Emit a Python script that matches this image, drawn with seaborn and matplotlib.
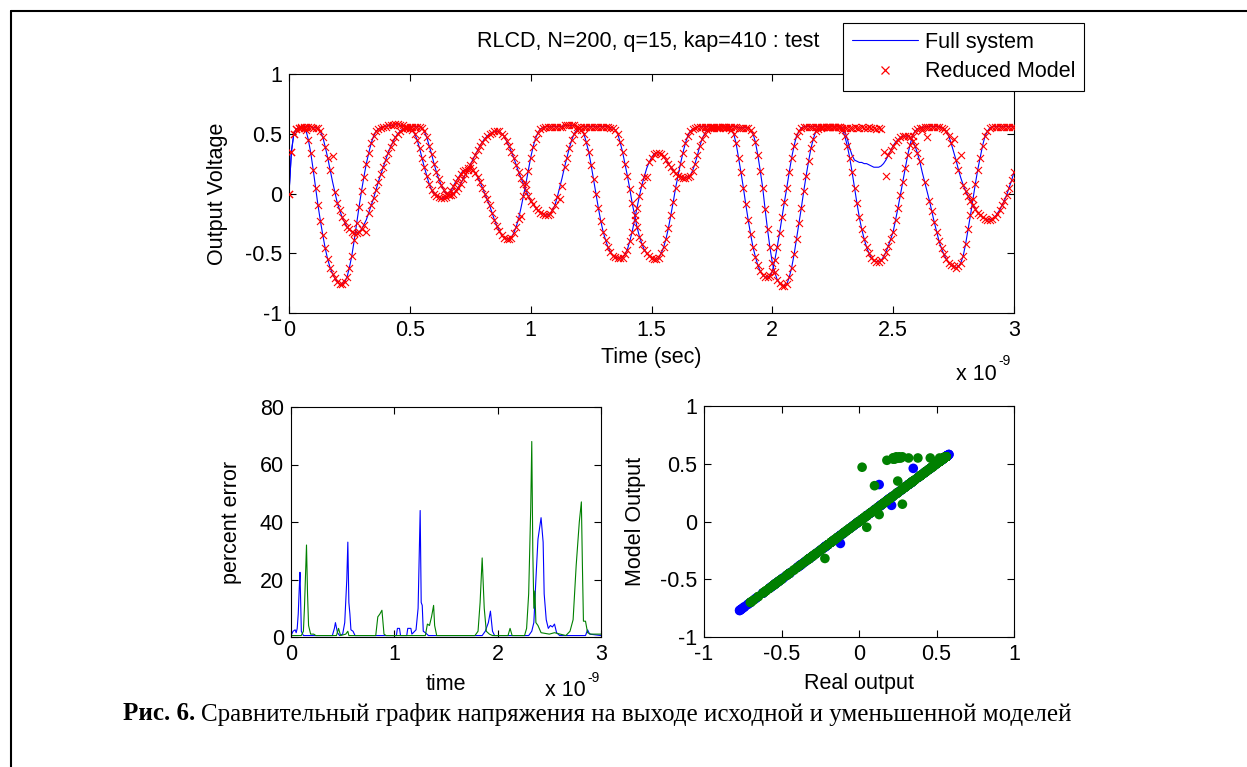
import numpy as np
import pandas as pd
import matplotlib
matplotlib.use('Agg')
import matplotlib.pyplot as plt
import seaborn as sns
from matplotlib.lines import Line2D
from matplotlib.ticker import MultipleLocator, FuncFormatter

# ---- data (time in units of 1e-9 s, sampled every 0.01) ----
t_ns = np.round(np.arange(301) * 0.01, 2)

# full system, output 1 (one row = 0.1 ns)
full_out1 = [
    0.00, 0.35, 0.50, 0.54, 0.55, 0.55, 0.55, 0.53, 0.45, 0.34,
    0.20, 0.05, -0.10, -0.23, -0.35, -0.46, -0.55, -0.62, -0.67, -0.71,
    -0.74, -0.76, -0.76, -0.74, -0.70, -0.62, -0.52, -0.39, -0.25, -0.11,
    0.02, 0.14, 0.25, 0.34, 0.42, 0.48, 0.52, 0.54, 0.55, 0.56,
    0.56, 0.57, 0.57, 0.57, 0.58, 0.58, 0.57, 0.57, 0.56, 0.56,
    0.55, 0.53, 0.50, 0.45, 0.38, 0.30, 0.22, 0.15, 0.08, 0.03,
    0.00, -0.02, -0.03, -0.04, -0.04, -0.03, -0.01, 0.02, 0.06, 0.10,
    0.13, 0.16, 0.19, 0.20, 0.21, 0.21, 0.20, 0.17, 0.14, 0.10,
    0.05, 0.00, -0.05, -0.10, -0.16, -0.22, -0.27, -0.31, -0.35, -0.37,
    -0.38, -0.38, -0.37, -0.33, -0.28, -0.21, -0.12, -0.02, 0.08, 0.19,
    0.30, 0.39, 0.46, 0.51, 0.54, 0.55, 0.56, 0.56, 0.56, 0.56,
    0.56, 0.56, 0.56, 0.56, 0.57, 0.57, 0.57, 0.57, 0.57, 0.56,
    0.55, 0.53, 0.50, 0.43, 0.35, 0.24, 0.12, 0.00, -0.12, -0.23,
    -0.32, -0.39, -0.45, -0.49, -0.52, -0.53, -0.54, -0.54, -0.54, -0.51,
    -0.47, -0.40, -0.32, -0.22, -0.12, -0.02, 0.07, 0.14, 0.21, 0.26,
    0.30, 0.33, 0.34, 0.34, 0.33, 0.31, 0.28, 0.25, 0.22, 0.19,
    0.17, 0.15, 0.14, 0.13, 0.13, 0.14, 0.15, 0.19, 0.25, 0.32,
    0.40, 0.46, 0.50, 0.53, 0.55, 0.55, 0.55, 0.55, 0.55, 0.56,
    0.56, 0.56, 0.56, 0.56, 0.56, 0.56, 0.55, 0.55, 0.55, 0.55,
    0.55, 0.53, 0.50, 0.43, 0.32, 0.19, 0.05, -0.13, -0.30, -0.45,
    -0.58, -0.66, -0.72, -0.75, -0.77, -0.77, -0.76, -0.70, -0.62, -0.51,
    -0.38, -0.25, -0.12, 0.02, 0.15, 0.27, 0.38, 0.46, 0.52, 0.54,
    0.55, 0.56, 0.56, 0.56, 0.56, 0.56, 0.56, 0.56, 0.56, 0.53,
    0.48, 0.40, 0.30, 0.18, 0.05, -0.08, -0.20, -0.30, -0.38, -0.45,
    -0.50, -0.54, -0.56, -0.57, -0.57, -0.56, -0.53, -0.49, -0.44, -0.38,
    -0.32, -0.22, -0.12, -0.01, 0.10, 0.21, 0.32, 0.41, 0.48, 0.52,
    0.54, 0.55, 0.55, 0.56, 0.56, 0.56, 0.56, 0.56, 0.56, 0.56,
    0.55, 0.54, 0.52, 0.48, 0.42, 0.35, 0.28, 0.20, 0.13, 0.07,
    0.02, -0.02, -0.06, -0.10, -0.13, -0.16, -0.18, -0.20, -0.21, -0.22,
    -0.22, -0.21, -0.20, -0.17, -0.14, -0.10, -0.06, -0.01, 0.05, 0.11,
    0.18,
]

# full system, output 2
full_out2 = [
    0.00, 0.35, 0.50, 0.54, 0.55, 0.56, 0.56, 0.56, 0.56, 0.56,
    0.55, 0.55, 0.55, 0.52, 0.47, 0.39, 0.30, 0.20, 0.10, 0.01,
    -0.08, -0.14, -0.20, -0.24, -0.28, -0.30, -0.32, -0.33, -0.33, -0.32,
    -0.30, -0.26, -0.22, -0.16, -0.10, -0.04, 0.03, 0.10, 0.16, 0.22,
    0.28, 0.34, 0.39, 0.43, 0.47, 0.50, 0.52, 0.54, 0.55, 0.55,
    0.56, 0.56, 0.56, 0.56, 0.56, 0.55, 0.52, 0.47, 0.40, 0.33,
    0.25, 0.18, 0.12, 0.07, 0.03, 0.00, -0.01, -0.01, 0.00, 0.02,
    0.05, 0.08, 0.12, 0.16, 0.20, 0.24, 0.28, 0.32, 0.36, 0.40,
    0.43, 0.46, 0.48, 0.50, 0.51, 0.52, 0.52, 0.52, 0.50, 0.48,
    0.44, 0.40, 0.35, 0.30, 0.24, 0.18, 0.13, 0.08, 0.03, -0.02,
    -0.06, -0.09, -0.12, -0.14, -0.16, -0.17, -0.18, -0.18, -0.17, -0.14,
    -0.10, -0.03, 0.05, 0.13, 0.22, 0.30, 0.38, 0.45, 0.50, 0.53,
    0.55, 0.56, 0.56, 0.56, 0.56, 0.56, 0.56, 0.56, 0.56, 0.56,
    0.56, 0.56, 0.56, 0.55, 0.55, 0.53, 0.50, 0.43, 0.35, 0.25,
    0.15, 0.04, -0.08, -0.18, -0.28, -0.36, -0.42, -0.47, -0.50, -0.52,
    -0.54, -0.55, -0.55, -0.54, -0.50, -0.45, -0.38, -0.29, -0.18, -0.07,
    0.05, 0.15, 0.25, 0.34, 0.42, 0.48, 0.52, 0.54, 0.55, 0.56,
    0.56, 0.56, 0.56, 0.56, 0.56, 0.56, 0.56, 0.56, 0.56, 0.56,
    0.56, 0.55, 0.55, 0.53, 0.50, 0.42, 0.30, 0.18, 0.05, -0.09,
    -0.22, -0.34, -0.45, -0.53, -0.60, -0.65, -0.68, -0.70, -0.70, -0.69,
    -0.65, -0.56, -0.45, -0.33, -0.20, -0.07, 0.05, 0.18, 0.30, 0.40,
    0.48, 0.52, 0.55, 0.56, 0.56, 0.56, 0.56, 0.56, 0.56, 0.56,
    0.56, 0.56, 0.56, 0.56, 0.56, 0.56, 0.56, 0.56, 0.56, 0.55,
    0.52, 0.46, 0.38, 0.32, 0.28, 0.27, 0.26, 0.26, 0.25, 0.25,
    0.24, 0.23, 0.22, 0.22, 0.22, 0.23, 0.25, 0.28, 0.32, 0.36,
    0.40, 0.43, 0.45, 0.47, 0.48, 0.48, 0.48, 0.47, 0.44, 0.40,
    0.34, 0.27, 0.18, 0.10, 0.02, -0.06, -0.15, -0.24, -0.32, -0.40,
    -0.46, -0.51, -0.55, -0.58, -0.60, -0.61, -0.62, -0.61, -0.58, -0.52,
    -0.42, -0.30, -0.18, -0.05, 0.08, 0.20, 0.30, 0.40, 0.48, 0.52,
    0.55, 0.56, 0.56, 0.56, 0.56, 0.56, 0.56, 0.56, 0.56, 0.56,
    0.56,
]

# reduced model = full system except at these samples (time -> value)
model_diff1 = {0.96: -0.19, 1.48: 0.14, 2.75: 0.46, 2.78: 0.32}
model_diff2 = {0.18: 0.31, 0.32: -0.32, 1.12: -0.05, 1.13: 0.06,
               2.30: 0.55, 2.31: 0.55, 2.32: 0.55, 2.33: 0.55, 2.34: 0.56,
               2.35: 0.55, 2.36: 0.55, 2.37: 0.56, 2.38: 0.55, 2.39: 0.55,
               2.40: 0.56, 2.41: 0.55, 2.42: 0.55, 2.43: 0.54, 2.44: 0.55,
               2.45: 0.54, 2.46: 0.35, 2.47: 0.15,
               2.62: 0.53, 2.64: 0.47}

# percent error traces (vertices)
err1_t = [0.00, 0.02, 0.04, 0.05, 0.06, 0.07, 0.08, 0.087, 0.095, 0.10, 0.12,
          0.40, 0.42, 0.43, 0.45, 0.47, 0.50, 0.52, 0.54, 0.55, 0.56, 0.57,
          0.58, 0.60, 0.62, 1.02, 1.03, 1.05, 1.06, 1.12, 1.13, 1.16, 1.17,
          1.21, 1.23, 1.25, 1.26, 1.27, 1.28, 1.30, 1.33, 1.85, 1.88, 1.91,
          1.93, 1.95, 1.97, 2.30, 2.33, 2.35, 2.37, 2.39, 2.42, 2.44, 2.45,
          2.47, 2.49, 2.51, 2.53, 2.55, 2.57, 2.60, 2.85, 2.87, 2.89, 3.00]
err1_v = [0.5, 2.0, 2.5, 1.5, 3.0, 8.0, 17.0, 22.5, 10.0, 2.0, 0.5,
          0.5, 3.0, 5.0, 1.5, 0.5, 1.0, 5.0, 20.0, 33.0, 12.0, 8.0,
          2.5, 2.0, 0.5, 0.5, 3.0, 3.0, 0.5, 0.5, 3.0, 3.0, 1.0,
          2.5, 10.0, 44.0, 12.0, 11.0, 2.0, 1.5, 0.5, 0.5, 2.0, 5.0,
          9.0, 2.0, 0.5, 0.5, 2.0, 5.0, 20.0, 34.0, 41.5, 33.0, 15.0,
          6.0, 3.0, 4.0, 3.5, 4.5, 1.5, 0.5, 0.5, 2.5, 1.0, 0.5]

err2_t = [0.00, 0.10, 0.12, 0.13, 0.15, 0.16, 0.17, 0.19, 0.22, 0.24,
          0.44, 0.46, 0.48, 0.53, 0.55, 0.56, 0.82, 0.84, 0.86, 0.88, 0.90,
          0.92, 1.30, 1.32, 1.34, 1.36, 1.38, 1.39, 1.41, 1.78, 1.81, 1.83,
          1.85, 1.87, 1.89, 1.92, 1.95, 2.10, 2.12, 2.14, 2.26, 2.28, 2.30,
          2.32, 2.33, 2.34, 2.35, 2.36, 2.37, 2.39, 2.42, 2.50, 2.55, 2.66,
          2.70, 2.73, 2.76, 2.79, 2.81, 2.82, 2.83, 2.85, 2.87, 2.90, 3.00]
err2_v = [0.5, 0.5, 2.0, 10.0, 32.0, 15.0, 4.0, 1.0, 1.0, 0.5,
          0.5, 3.0, 0.5, 1.0, 2.0, 0.5, 0.5, 7.0, 8.0, 9.3, 1.0,
          0.5, 0.5, 4.5, 4.0, 7.0, 11.0, 4.0, 0.5, 0.5, 2.0, 12.0,
          27.5, 10.0, 2.0, 1.0, 0.5, 0.5, 3.0, 0.5, 0.5, 3.0, 15.0,
          45.0, 68.0, 30.0, 10.0, 16.0, 5.0, 4.0, 1.5, 1.0, 1.5, 0.5,
          2.0, 6.0, 25.0, 40.0, 47.0, 25.0, 5.5, 5.5, 1.5, 1.0, 1.0]

title_text = 'RLCD, N=200, q=15, kap=410 : test'
legend_labels = ['Full system', 'Reduced Model']
caption_bold = 'Рис. 6.'
caption_rest = 'Сравнительный график напряжения на выходе исходной и уменьшенной моделей'


def with_diffs(values, diffs):
    out = list(values)
    for t, v in diffs.items():
        out[int(round(t * 100))] = v
    return out


model_out1 = with_diffs(full_out1, model_diff1)
model_out2 = with_diffs(full_out2, model_diff2)

n = len(t_ns)
full_df = pd.DataFrame({'t': np.concatenate([t_ns, t_ns]),
                        'v': full_out1 + full_out2,
                        'out': ['1'] * n + ['2'] * n})
model_df = pd.DataFrame({'t': np.concatenate([t_ns, t_ns]),
                         'v': model_out1 + model_out2})

# ---- style ----
sns.set_theme(style='white')
plt.rcParams['font.family'] = ['Liberation Sans', 'DejaVu Sans']
plt.rcParams['axes.unicode_minus'] = False
plt.rcParams['text.color'] = 'black'
plt.rcParams['axes.labelcolor'] = 'black'

W, H = 1247, 767
FS = 15.5  # MATLAB text size at this scale


def fx(px):
    return px / W


def fy(py):
    return 1 - py / H


def matlab_look(ax, xlim, ylim, xstep, ystep):
    ax.set_xlim(xlim)
    ax.set_ylim(ylim)
    ax.xaxis.set_major_locator(MultipleLocator(xstep))
    ax.yaxis.set_major_locator(MultipleLocator(ystep))
    fmt = FuncFormatter(lambda v, p: '%g' % round(v, 6))
    ax.xaxis.set_major_formatter(fmt)
    ax.yaxis.set_major_formatter(fmt)
    ax.tick_params(direction='in', top=True, right=True, bottom=True, left=True,
                   length=5, width=0.8, labelsize=FS, pad=5, colors='black')
    for s in ax.spines.values():
        s.set_visible(True)
        s.set_color('black')
        s.set_linewidth(0.8)
    ax.set_facecolor('white')


def times_ten(fig, x_px, y_px):
    # MATLAB style exponent label "x 10^-9"
    base = fig.text(fx(x_px), fy(y_px), 'x 10', fontsize=FS, ha='left', va='center')
    fig.canvas.draw()
    b = base.get_window_extent()
    fig.text((b.x1 + 2) / W, fy(y_px - 13), '-9', fontsize=10, ha='left', va='center')


fig = plt.figure(figsize=(W / 100, H / 100), dpi=100)

ax_top = fig.add_axes([fx(289), fy(313), fx(1014) - fx(289), fy(74) - fy(313)])
ax_err = fig.add_axes([fx(291), fy(637), fx(601) - fx(291), fy(407) - fy(637)])
ax_sc = fig.add_axes([fx(704), fy(637), fx(1014) - fx(704), fy(406) - fy(637)])

# top: transient response
sns.lineplot(data=full_df, x='t', y='v', units='out', estimator=None, sort=False,
             color='blue', linewidth=0.8, ax=ax_top, legend=False)
sns.scatterplot(data=model_df, x='t', y='v', marker='x', color='red', s=26,
                linewidth=0.8, ax=ax_top, legend=False, zorder=3)
matlab_look(ax_top, (0, 3), (-1, 1), 0.5, 0.5)
ax_top.set_xlabel('Time (sec)', fontsize=FS)
ax_top.set_ylabel('Output Voltage', fontsize=FS)
ax_top.xaxis.set_label_coords(0.5, (313 - 357) / 239)
ax_top.yaxis.set_label_coords((218 - 289) / 725, 0.5)
ax_top.xaxis.label.set_va('center')
ax_top.yaxis.label.set_va('center')
fig.text(fx(648), fy(42), title_text, fontsize=FS, ha='center', va='center')

handles = [Line2D([], [], color='blue', lw=0.8),
           Line2D([], [], color='red', marker='x', ls='none', markersize=6, mew=0.9)]
leg = fig.legend(handles, legend_labels, loc='upper right',
                 bbox_to_anchor=(fx(1084), fy(23)), bbox_transform=fig.transFigure,
                 frameon=True, fancybox=False, edgecolor='black', framealpha=1,
                 fontsize=FS, handlelength=3.1, borderaxespad=0, borderpad=0.4,
                 labelspacing=0.4, handletextpad=0.3, numpoints=1)
leg.get_frame().set_linewidth(0.8)

# bottom left: percent error
sns.lineplot(x=err1_t, y=err1_v, color='blue', linewidth=0.8, estimator=None,
             sort=False, ax=ax_err)
sns.lineplot(x=err2_t, y=err2_v, color='green', linewidth=0.8, estimator=None,
             sort=False, ax=ax_err)
matlab_look(ax_err, (0, 3), (0, 80), 1, 20)
ax_err.set_xlabel('time', fontsize=FS)
ax_err.set_ylabel('percent error', fontsize=FS)
ax_err.xaxis.set_label_coords(0.5, (637 - 684) / 230)
ax_err.yaxis.set_label_coords((232 - 291) / 310, 0.5)
ax_err.xaxis.label.set_va('center')
ax_err.yaxis.label.set_va('center')

# bottom right: model vs real output
sns.scatterplot(x=full_out1, y=model_out1, color='blue', s=48, edgecolor='none',
                ax=ax_sc, legend=False)
sns.scatterplot(x=full_out2, y=model_out2, color='green', s=48, edgecolor='none',
                ax=ax_sc, legend=False)
matlab_look(ax_sc, (-1, 1), (-1, 1), 0.5, 0.5)
ax_sc.set_xlabel('Real output', fontsize=FS)
ax_sc.set_ylabel('Model Output', fontsize=FS)
ax_sc.xaxis.set_label_coords(0.5, (637 - 684) / 231)
ax_sc.yaxis.set_label_coords((635 - 704) / 310, 0.5)
ax_sc.xaxis.label.set_va('center')
ax_sc.yaxis.label.set_va('center')

times_ten(fig, 956, 374)
times_ten(fig, 545, 691)

# page frame around the figure
fig.add_artist(Line2D([fx(11), fx(11)], [0, fy(11)], color='black', lw=1.5,
                      transform=fig.transFigure))
fig.add_artist(Line2D([fx(11), 1], [fy(11), fy(11)], color='black', lw=1.5,
                      transform=fig.transFigure))

# caption
serif = ['Liberation Serif', 'DejaVu Serif']
cap1 = fig.text(fx(123), fy(714), caption_bold, fontsize=18, fontweight='bold',
                family=serif, ha='left', va='center')
fig.canvas.draw()
bb = cap1.get_window_extent()
fig.text((bb.x1 + 6) / W, fy(714), caption_rest, fontsize=18,
         family=serif, ha='left', va='center')

fig.savefig('out.png', dpi=100)
